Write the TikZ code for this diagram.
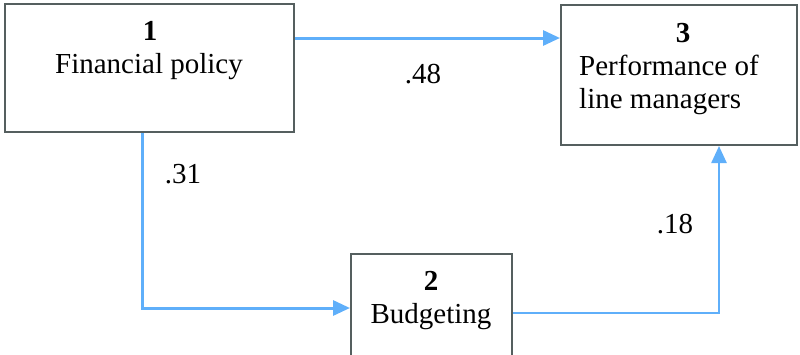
\documentclass[tikz,border=0pt]{standalone}
\usepackage{fontspec}
\setmainfont{Liberation Serif}
\usetikzlibrary{arrows.meta}
\definecolor{linkblue}{RGB}{95,175,250}
\definecolor{boxgrey}{RGB}{85,95,95}
\tikzset{
  box/.style={draw=boxgrey, line width=2pt, fill=white, rectangle, inner sep=0pt},
  lbl/.style={font=\fontsize{29}{33}\selectfont, anchor=base, inner sep=0pt},
  link/.style={draw=linkblue, line width=3pt, -{Triangle[length=17pt,width=15pt]}}
}
\begin{document}
\begin{tikzpicture}[x=1pt,y=-1pt]
\useasboundingbox (0,0) rectangle (800,354);
\begin{scope}
\clip (0,0) rectangle (800,354);
\node[box, minimum width=289pt, minimum height=128pt] (b1) at (149.5,68) {};
\node[box, minimum width=236pt, minimum height=140pt] (b3) at (679,75) {};
\node[box, minimum width=161pt, minimum height=120pt] (b2) at (431.5,314) {};
\end{scope}
\node[lbl] (t1) at (150,40) {\textbf{1}};
\node[lbl] (t1b) at (149,73) {Financial policy};
\node[lbl] (t3) at (683,42) {\textbf{3}};
\node[lbl, anchor=base west] (t3b) at (579,75) {Performance of};
\node[lbl, anchor=base west] (t3c) at (579,108) {line managers};
\node[lbl] (t2) at (431,290) {\textbf{2}};
\node[lbl] (t2b) at (431,323) {Budgeting};
\node[lbl] (l48) at (423,83) {.48};
\node[lbl] (l31) at (183,183) {.31};
\node[lbl] (l18) at (675,233) {.18};
\coordinate (c1) at (142,308);
\coordinate (c2) at (719,313);
\draw[link] (b1.east |- 0,38) -- (b3.west |- 0,38);
\draw[link] (b1.south -| c1) -- (c1) -- (b2.west |- c1);
\draw[link, line width=2.5pt] (b2.east |- c2) -- (c2) -- (b3.south -| c2);
\end{tikzpicture}
\end{document}
